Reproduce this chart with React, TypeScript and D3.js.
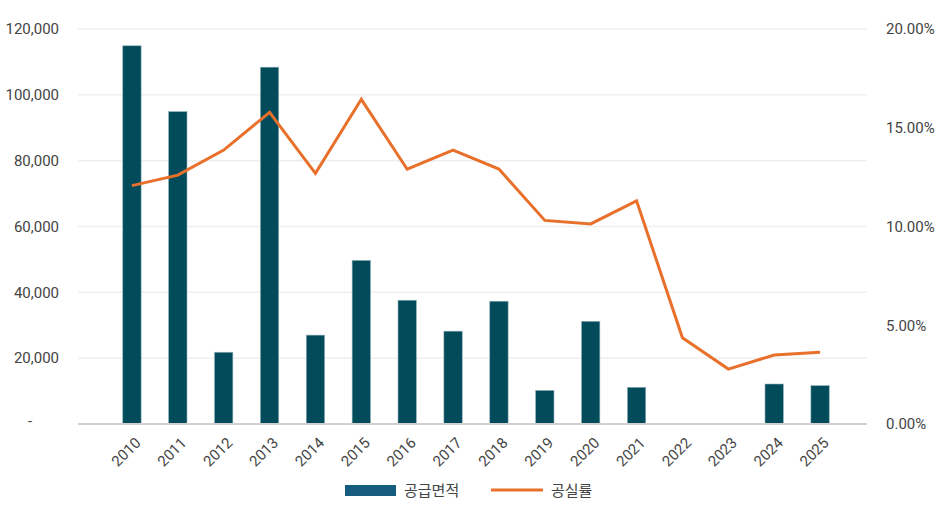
import * as d3 from "d3";

const years = [
  "2010", "2011", "2012", "2013", "2014", "2015", "2016", "2017",
  "2018", "2019", "2020", "2021", "2022", "2023", "2024", "2025",
];
// 공급면적
const supply = [
  114900, 94900, 21800, 108400, 27000, 49700, 37600, 28200,
  37300, 10200, 31200, 11150, 0, 0, 12150, 11650,
];
// 공실률 (%)
const vacancy = [
  12.07, 12.6, 13.87, 15.78, 12.69, 16.44, 12.9, 13.87,
  12.91, 10.31, 10.13, 11.3, 4.37, 2.78, 3.49, 3.63,
];
const leftTicks = [0, 20000, 40000, 60000, 80000, 100000, 120000];
const rightTicks = [0, 5, 10, 15, 20];

const W = 939;
const H = 528;
const FONT = "Roboto, 'Noto Sans CJK KR', sans-serif";

export default function App() {
  const gridLeft = 78;
  const gridRight = 867;
  const top = 29;
  const bottom = 424;

  const x = d3
    .scaleBand<string>()
    .domain(years)
    .range([109, 843])
    .paddingInner(0.6)
    .paddingOuter(0.3);

  const yLeft = d3.scaleLinear().domain([0, 120000]).range([bottom, top]);
  const yRight = d3.scaleLinear().domain([0, 20]).range([bottom, top]);

  const cx = (d: string) => (x(d) || 0) + x.bandwidth() / 2;

  const line = d3
    .line<number>()
    .x((_, i) => cx(years[i]))
    .y((d) => yRight(d));

  const fmt = d3.format(",");

  return (
    <svg
      width={W}
      height={H}
      style={{ position: "absolute", left: 0, top: 0, fontFamily: FONT }}
    >
      <rect width={W} height={H} fill="#fff" />

      {/* gridlines */}
      {leftTicks.slice(1).map((t) => (
        <line
          key={t}
          x1={gridLeft}
          x2={gridRight}
          y1={yLeft(t)}
          y2={yLeft(t)}
          stroke="#efefef"
          strokeWidth={1.5}
        />
      ))}

      {/* left axis labels (accounting style: zero shown as a dash) */}
      {leftTicks.map((t) =>
        t === 0 ? (
          <text
            key={t}
            x={30}
            y={yLeft(t) - 3}
            dy="0.35em"
            textAnchor="middle"
            fontSize={15}
            fill="#444"
          >
            -
          </text>
        ) : (
          <text
            key={t}
            x={59}
            y={yLeft(t)}
            dy="0.35em"
            textAnchor="end"
            fontSize={15}
            fill="#444"
          >
            {fmt(t)}
          </text>
        )
      )}

      {/* right axis labels */}
      {rightTicks.map((t) => (
        <text
          key={t}
          x={886}
          y={yRight(t)}
          dy="0.35em"
          textAnchor="start"
          fontSize={15}
          fill="#444"
        >
          {t.toFixed(2) + "%"}
        </text>
      ))}

      {/* bars */}
      {supply.map((v, i) =>
        v > 0 ? (
          <rect
            key={years[i]}
            x={x(years[i])}
            y={yLeft(v)}
            width={x.bandwidth()}
            height={bottom - yLeft(v)}
            fill="#024b5b"
            stroke="#8fb0b7"
            strokeWidth={0.6}
          />
        ) : null
      )}

      {/* x axis */}
      <line
        x1={gridLeft}
        x2={gridRight}
        y1={bottom}
        y2={bottom}
        stroke="#d0d0d0"
        strokeWidth={2}
      />

      {years.map((d) => (
        <text
          key={d}
          transform={`translate(${cx(d) + 6},${bottom + 16}) rotate(-45)`}
          textAnchor="end"
          dy="0.35em"
          fontSize={15}
          fill="#444"
        >
          {d}
        </text>
      ))}

      {/* vacancy line */}
      <path
        d={line(vacancy) || ""}
        fill="none"
        stroke="#e8702a"
        strokeWidth={3}
        strokeLinejoin="miter"
      />

      {/* legend */}
      <rect x={345} y={485} width={51} height={11} fill="#155c7e" />
      <text x={404} y={491} dy="0.35em" fontSize={15} fill="#444">
        공급면적
      </text>
      <line x1={491} x2={543} y1={490} y2={490} stroke="#e8702a" strokeWidth={3} />
      <text x={551} y={491} dy="0.35em" fontSize={15} fill="#444">
        공실률
      </text>
    </svg>
  );
}
